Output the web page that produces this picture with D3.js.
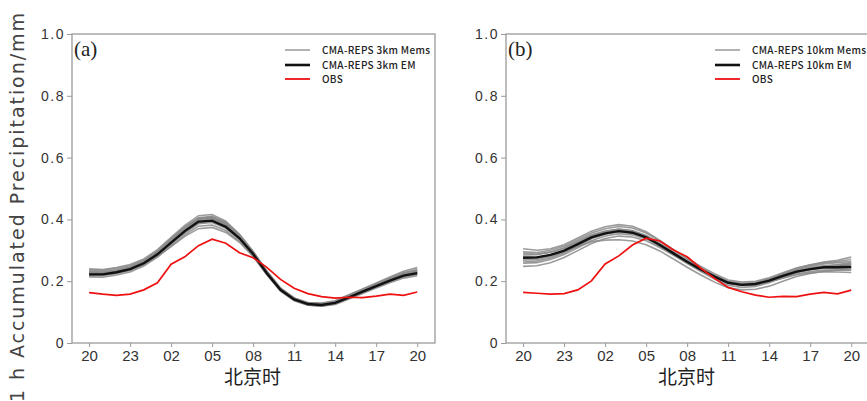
<!DOCTYPE html>
<html><head><meta charset="utf-8">
<script src="https://cdn.jsdelivr.net/npm/d3@7"></script>
<style>body{margin:0;background:#fff}svg{display:block}</style>
</head><body><svg id="c" width="867" height="401"></svg>
<script>
const hourLabels = ["20","23","02","05","08","11","14","17","20"];
const yTicks = [0,0.2,0.4,0.6,0.8,1.0];

const obsA = [0.163,0.158,0.154,0.158,0.172,0.195,0.255,0.279,0.315,0.336,0.323,0.292,0.276,0.245,0.206,0.177,0.160,0.150,0.145,0.148,0.147,0.152,0.158,0.154,0.165];
const emA = [0.222,0.222,0.229,0.239,0.258,0.287,0.325,0.362,0.393,0.396,0.376,0.339,0.288,0.226,0.172,0.141,0.126,0.123,0.130,0.148,0.166,0.184,0.202,0.218,0.226];
const memsA = [
 [0.240,0.238,0.244,0.254,0.272,0.302,0.342,0.381,0.412,0.416,0.394,0.352,0.296,0.232,0.176,0.145,0.130,0.128,0.136,0.155,0.175,0.194,0.214,0.232,0.244],
 [0.232,0.231,0.237,0.247,0.266,0.296,0.336,0.374,0.405,0.410,0.390,0.350,0.296,0.233,0.178,0.146,0.131,0.129,0.137,0.156,0.174,0.192,0.211,0.228,0.238],
 [0.226,0.226,0.233,0.243,0.262,0.292,0.330,0.368,0.400,0.404,0.385,0.346,0.294,0.231,0.176,0.144,0.128,0.125,0.132,0.150,0.169,0.188,0.207,0.224,0.233],
 [0.218,0.218,0.225,0.235,0.254,0.283,0.320,0.356,0.386,0.390,0.371,0.335,0.285,0.223,0.169,0.138,0.123,0.120,0.127,0.145,0.163,0.181,0.199,0.214,0.222],
 [0.214,0.213,0.220,0.230,0.249,0.278,0.314,0.350,0.378,0.382,0.364,0.329,0.281,0.221,0.168,0.137,0.122,0.119,0.125,0.142,0.160,0.178,0.195,0.210,0.218],
 [0.220,0.220,0.226,0.236,0.254,0.280,0.312,0.345,0.370,0.374,0.358,0.326,0.280,0.222,0.170,0.140,0.126,0.123,0.130,0.147,0.165,0.183,0.200,0.216,0.224],
 [0.236,0.235,0.241,0.250,0.268,0.298,0.338,0.376,0.404,0.406,0.384,0.343,0.289,0.226,0.170,0.139,0.124,0.121,0.128,0.147,0.167,0.187,0.208,0.226,0.236],
 [0.228,0.227,0.232,0.241,0.259,0.288,0.327,0.366,0.398,0.402,0.383,0.344,0.291,0.228,0.173,0.141,0.125,0.121,0.128,0.146,0.164,0.183,0.203,0.220,0.229],
 [0.224,0.224,0.230,0.240,0.258,0.286,0.323,0.358,0.388,0.394,0.376,0.340,0.291,0.230,0.176,0.145,0.129,0.126,0.133,0.151,0.170,0.189,0.208,0.224,0.232],
 [0.230,0.228,0.234,0.244,0.262,0.292,0.332,0.370,0.402,0.408,0.389,0.349,0.294,0.229,0.172,0.140,0.124,0.120,0.126,0.144,0.162,0.181,0.201,0.219,0.230]
];

const obsB = [0.164,0.161,0.158,0.160,0.172,0.201,0.256,0.282,0.317,0.339,0.330,0.301,0.279,0.242,0.209,0.180,0.166,0.155,0.148,0.151,0.150,0.158,0.164,0.159,0.171];
const emB = [0.276,0.277,0.285,0.299,0.320,0.342,0.355,0.362,0.357,0.342,0.317,0.290,0.263,0.238,0.215,0.195,0.188,0.191,0.202,0.217,0.231,0.239,0.245,0.245,0.247];
const memsB = [
 [0.305,0.300,0.305,0.318,0.340,0.362,0.376,0.383,0.378,0.360,0.332,0.302,0.272,0.244,0.219,0.199,0.192,0.196,0.208,0.225,0.242,0.252,0.260,0.264,0.270],
 [0.295,0.293,0.300,0.313,0.334,0.356,0.370,0.377,0.372,0.356,0.330,0.302,0.274,0.248,0.224,0.204,0.197,0.200,0.211,0.227,0.243,0.253,0.262,0.268,0.278],
 [0.285,0.286,0.294,0.308,0.329,0.350,0.362,0.368,0.362,0.346,0.321,0.294,0.266,0.240,0.216,0.196,0.189,0.192,0.204,0.220,0.235,0.244,0.250,0.252,0.256],
 [0.268,0.270,0.279,0.294,0.315,0.338,0.352,0.360,0.356,0.342,0.318,0.291,0.264,0.239,0.216,0.197,0.190,0.193,0.203,0.217,0.230,0.237,0.242,0.241,0.242],
 [0.258,0.260,0.270,0.286,0.308,0.331,0.346,0.354,0.350,0.337,0.313,0.287,0.260,0.235,0.212,0.193,0.186,0.188,0.198,0.211,0.224,0.231,0.236,0.236,0.236],
 [0.248,0.250,0.260,0.277,0.299,0.322,0.338,0.346,0.343,0.331,0.309,0.284,0.258,0.234,0.212,0.194,0.187,0.189,0.198,0.210,0.221,0.227,0.231,0.230,0.228],
 [0.280,0.278,0.284,0.296,0.313,0.328,0.333,0.334,0.330,0.318,0.298,0.272,0.245,0.220,0.197,0.179,0.172,0.174,0.184,0.200,0.215,0.225,0.232,0.236,0.240],
 [0.272,0.274,0.283,0.298,0.321,0.345,0.361,0.369,0.364,0.348,0.322,0.294,0.266,0.240,0.217,0.197,0.188,0.190,0.200,0.214,0.228,0.238,0.246,0.250,0.254],
 [0.290,0.288,0.294,0.306,0.326,0.348,0.361,0.367,0.362,0.345,0.318,0.288,0.258,0.231,0.207,0.187,0.180,0.183,0.195,0.212,0.228,0.239,0.248,0.254,0.260],
 [0.262,0.265,0.275,0.291,0.314,0.338,0.354,0.362,0.358,0.344,0.320,0.293,0.265,0.240,0.218,0.199,0.192,0.195,0.206,0.222,0.238,0.248,0.256,0.260,0.264]
];

const legendA = ["CMA-REPS 3km Mems","CMA-REPS 3km EM","OBS"];
const legendB = ["CMA-REPS 10km Mems","CMA-REPS 10km EM","OBS"];

const svg = d3.select("#c");
const axisColor = "#9a9a9a";
const textColor = "#333";

function panel(x0, label, mems, em, obs, legend, legX) {
  const w = 363, top = 34, bottom = 343;
  const x = d3.scaleLinear().domain([-1.25, 25.3]).range([x0, x0 + w]);
  const y = d3.scaleLinear().domain([0, 1]).range([bottom, top]);
  const g = svg.append("g");
  const line = d3.line().x((d, i) => x(i)).y(d => y(d));

  mems.forEach(m => g.append("path").attr("d", line(m)).attr("fill", "none")
    .attr("stroke", "#8a8a8a").attr("stroke-width", 1.6).attr("stroke-opacity", 0.85));
  g.append("path").attr("d", line(em)).attr("fill", "none").attr("stroke", "#111").attr("stroke-width", 2.4);
  g.append("path").attr("d", line(obs)).attr("fill", "none").attr("stroke", "#ee1111").attr("stroke-width", 1.7);

  // frame
  g.append("rect").attr("x", x0).attr("y", top).attr("width", w).attr("height", bottom - top)
    .attr("fill", "none").attr("stroke", axisColor).attr("stroke-width", 1.3);

  // y axis
  const ya = d3.axisLeft(y).tickValues(yTicks).tickSize(5).tickPadding(2)
    .tickFormat(d => d === 0 ? "0" : d3.format(".1f")(d));
  const yg = g.append("g").attr("transform", `translate(${x0},0)`).call(ya);
  yg.select(".domain").remove();
  yg.selectAll("line").attr("stroke", axisColor);
  yg.selectAll("text").attr("font-family", "Liberation Sans, Arial, sans-serif")
    .attr("font-size", 14).attr("fill", textColor).attr("letter-spacing", 1.5);

  // x axis
  const xa = d3.axisBottom(x).tickValues(d3.range(0, 25, 3)).tickSize(4).tickPadding(3)
    .tickFormat((d, i) => hourLabels[i]);
  const xg = g.append("g").attr("transform", `translate(0,${bottom})`).call(xa);
  xg.select(".domain").remove();
  xg.selectAll("line").attr("stroke", axisColor);
  xg.selectAll("text").attr("font-family", "Liberation Sans, Arial, sans-serif")
    .attr("font-size", 15).attr("fill", textColor);

  g.append("text").attr("x", x0 + w / 2 - 1).attr("y", 384).attr("text-anchor", "middle")
    .attr("font-family", "Noto Sans CJK SC, sans-serif").attr("font-size", 19).attr("fill", "#222")
    .text("北京时");

  g.append("text").attr("x", x0 + 2).attr("y", 56).attr("font-family", "Liberation Serif, Times New Roman, serif")
    .attr("font-size", 21).attr("fill", "#222").text(label);

  // legend
  const colors = ["#999", "#111", "#ee1111"];
  const widths = [1.5, 2.6, 1.8];
  const rows = [50, 65, 79];
  legend.forEach((t, i) => {
    g.append("line").attr("x1", legX).attr("x2", legX + 25).attr("y1", rows[i]).attr("y2", rows[i])
      .attr("stroke", colors[i]).attr("stroke-width", widths[i]);
    g.append("text").attr("x", legX + 37).attr("y", rows[i] + 3.5)
      .attr("font-family", "Noto Sans CJK SC, sans-serif").attr("font-size", 10)
      .attr("font-weight", 500).attr("letter-spacing", 0.3)
      .attr("fill", "#222").text(t);
  });
}

panel(72, "(a)", memsA, emA, obsA, legendA, 285);
panel(506, "(b)", memsB, emB, obsB, legendB, 715);

svg.append("text").attr("transform", "translate(24,402) rotate(-90)")
  .attr("font-family", "DejaVu Sans, sans-serif").attr("font-size", 19).attr("fill", "#444")
  .attr("textLength", 389).attr("lengthAdjust", "spacing")
  .text("1 h Accumulated Precipitation/mm");
</script></body></html>
